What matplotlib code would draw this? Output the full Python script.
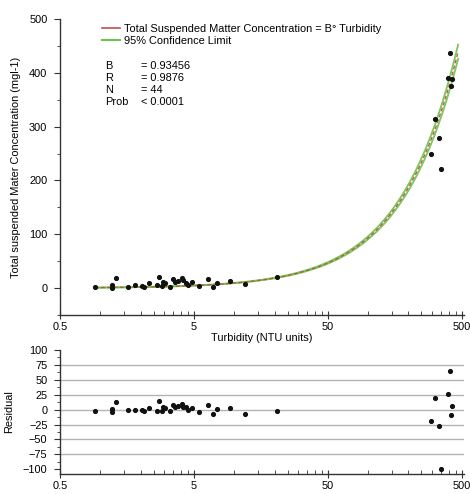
import numpy as np
import matplotlib
matplotlib.use("Agg")
import matplotlib.pyplot as plt
from matplotlib.ticker import FixedLocator, NullFormatter, MultipleLocator
from matplotlib.lines import Line2D

plt.rcParams['font.family'] = ['Liberation Sans', 'DejaVu Sans']
plt.rcParams['font.size'] = 7.9

# ---- data ----
turbidity = [0.91, 1.22, 1.22, 1.31, 1.62, 1.82, 2.04, 2.12, 2.32, 2.63,
             2.73, 2.87, 2.93, 3.05, 3.31, 3.5, 3.63, 3.8, 4.05, 4.17,
             4.37, 4.5, 4.8, 5.46, 6.4, 6.9, 7.5, 9.3, 12.0, 20.7,
             407, 395, 423, 413, 318, 337, 294, 352]
tsm = [2.4, 5.6, 0.0, 18, 2.5, 5.6, 3.7, 2.4, 8.6, 5.6,
       21, 3.7, 11.7, 8.6, 2.4, 16, 11.7, 13.5, 18, 14.8,
       8.6, 5.6, 11.7, 4.3, 16, 2.4, 9.9, 13.5, 7.4, 19.8,
       437, 391, 388, 376, 314, 279, 249, 222]
residual = [-1.7, 1, -4, 13, -0.5, -0.5, -1, -3, 2.4, -2,
            15, -3, 4.5, 2, -2, 8.4, 4.5, 6, 10, 4.5,
            4.5, -1, 3, -4, 7.3, -6.7, 1, 2.4, -7.2, -1.7,
            65.5, 26, 5.7, -9.5, 19, -28, -18.5, -100]
B = 0.93456
fit_range = [0.91, 470]
ci_frac = 0.03

xticks = [0.5, 5, 50, 500]
xticklabels = ["0.5", "5", "50", "500"]
resid_ticks = [100, 75, 50, 25, 0, -25, -50, -75, -100]

fig = plt.figure(figsize=(4.70, 4.94), dpi=100)
ax = fig.add_axes([60/470, 1-315/494, 404/470, (315-19)/494])
axr = fig.add_axes([60/470, 1-474/494, 404/470, (474-350)/494])

axis_col = '#333333'
minor = [0.5*k*10**n for n in range(0, 3) for k in range(2, 10)]

for a in (ax, axr):
    a.set_xscale('log')
    a.set_xlim(0.5, 520)
    for s in ('top', 'right'):
        a.spines[s].set_visible(False)
    for s in ('left', 'bottom'):
        a.spines[s].set_color(axis_col)
        a.spines[s].set_linewidth(1.0)
    a.xaxis.set_major_locator(FixedLocator(xticks))
    a.set_xticklabels(xticklabels)
    a.xaxis.set_minor_locator(FixedLocator(minor))
    a.xaxis.set_minor_formatter(NullFormatter())
    a.tick_params(axis='x', which='major', direction='inout', length=6, color=axis_col, pad=2)
    a.tick_params(axis='x', which='minor', direction='in', length=3, color=axis_col)
    a.tick_params(axis='y', which='major', direction='out', length=4, color=axis_col, pad=5)
    a.tick_params(axis='y', which='minor', direction='out', length=2.5, color=axis_col)

# ---- top panel ----
xf = np.geomspace(fit_range[0], fit_range[1], 200)
yf = B * xf
ax.plot(xf, yf*(1+ci_frac), color='#6cc24a', lw=1.3, alpha=0.9)
ax.plot(xf, yf*(1-ci_frac), color='#6cc24a', lw=1.3, alpha=0.9)
ax.plot(xf, yf, color='#c0504d', lw=0.9, ls=(0, (3, 2)))
ax.plot(turbidity, tsm, 'o', color='#111111', ms=2.7, zorder=5)
ax.set_ylim(-50, 500)
ax.yaxis.set_major_locator(MultipleLocator(100))
ax.yaxis.set_minor_locator(MultipleLocator(50))
ax.set_xlabel("Turbidity (NTU units)", labelpad=1)
ax.set_ylabel("Total suspended Mater Concentration (mgl-1)", labelpad=6)

handles = [Line2D([], [], color='#c0504d', lw=1.2),
           Line2D([], [], color='#6cc24a', lw=1.5)]
ax.legend(handles, ["Total Suspended Matter Concentration = B\u00b0 Turbidity",
                    "95% Confidence Limit"],
          loc='upper left', bbox_to_anchor=(102/470, 1-24/494), bbox_transform=fig.transFigure,
          frameon=False, handlelength=1.6, handletextpad=0.45, labelspacing=0.15,
          borderaxespad=0, borderpad=0)

stats = [("B", "= 0.93456"), ("R", "= 0.9876"), ("N", "= 44"), ("Prob", "< 0.0001")]
for i, (k, v) in enumerate(stats):
    yy = 1 - (66 + 12*i)/494
    fig.text(105/470, yy, k, ha='left', va='center')
    fig.text(141/470, yy, v, ha='left', va='center')

# ---- residual panel ----
axr.set_ylim(-108, 100)
axr.set_yticks(resid_ticks)
axr.yaxis.set_minor_locator(MultipleLocator(12.5))
for g in [75, 50, 25, 0, -25, -50, -75]:
    axr.axhline(g, color='#b3b3b3', lw=1.0, zorder=0)
axr.plot(turbidity, residual, 'o', color='#111111', ms=2.7, zorder=5, clip_on=False)
axr.set_ylabel("Residual", labelpad=6)

fig.savefig("out.png", dpi=100)
